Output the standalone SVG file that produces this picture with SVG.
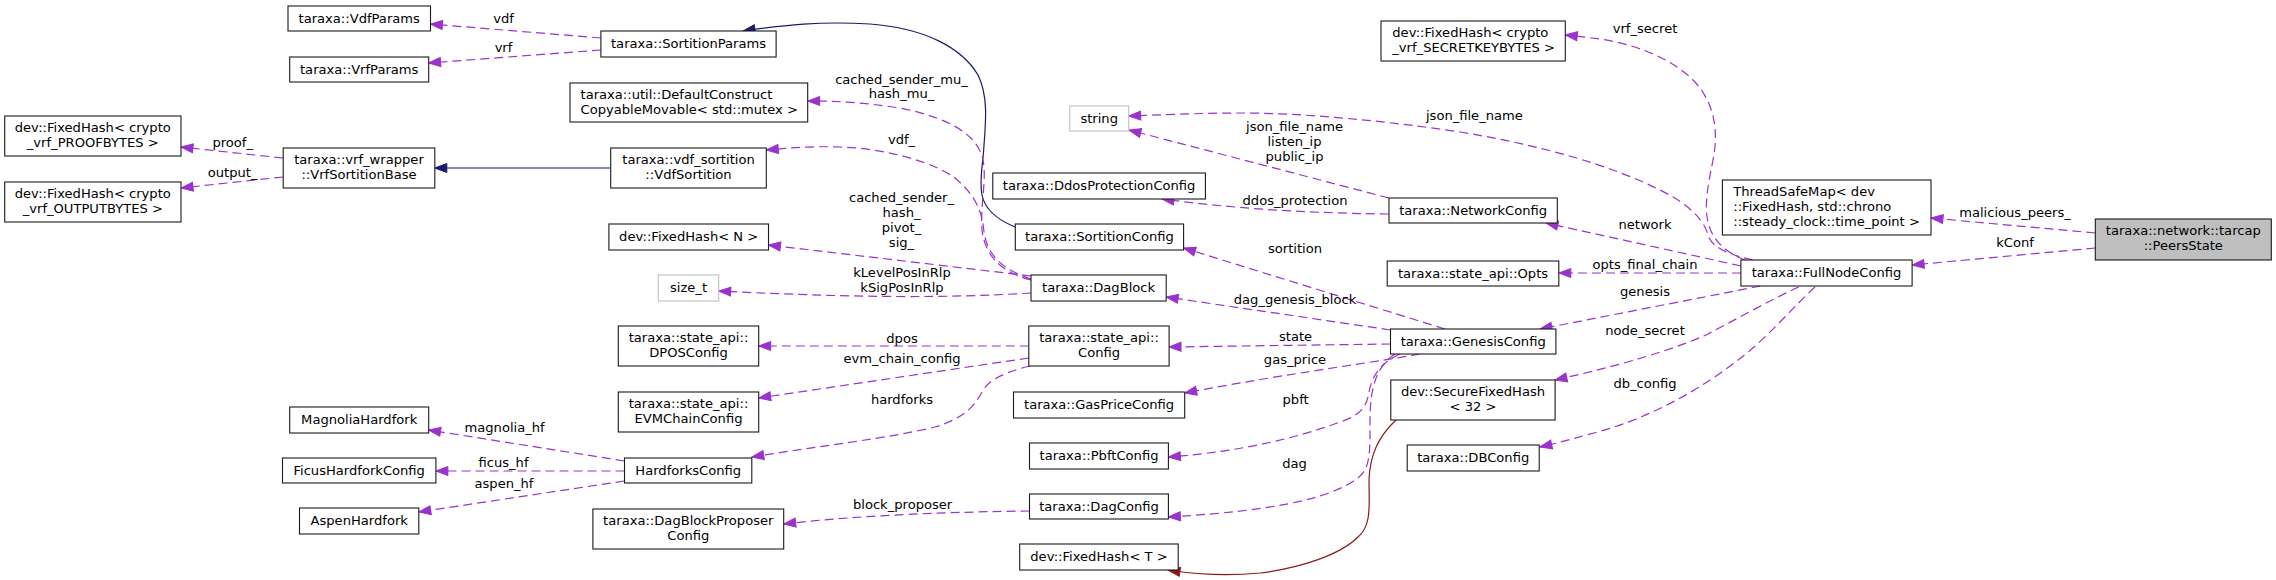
<svg xmlns="http://www.w3.org/2000/svg" width="2276" height="580" viewBox="0 0 2276 580">
<style>
text{font-family:"DejaVu Sans","Liberation Sans",sans-serif;font-size:13.1px;fill:#000}
.c{text-anchor:middle}
.n rect{fill:#fff;stroke:#1a1a1a;stroke-width:1.1}
.n.gr rect{stroke:#bfbfbf}
.n.hl rect{fill:#bfbfbf}
.d{fill:none;stroke:#9a32cd;stroke-width:1.2;stroke-dasharray:9,5}
.b{fill:none;stroke:#191970;stroke-width:1.2}
.r{fill:none;stroke:#8b1a1a;stroke-width:1.2}
</style>
<defs>
<marker id="ap" markerUnits="userSpaceOnUse" markerWidth="13" markerHeight="10" refX="12" refY="4.5" orient="auto" overflow="visible"><path d="M12,4.5 L0,0 L0,9 Z" fill="#9a32cd" stroke="#9a32cd" stroke-width="1" stroke-dasharray="none"/></marker>
<marker id="ab" markerUnits="userSpaceOnUse" markerWidth="13" markerHeight="10" refX="12" refY="4.5" orient="auto" overflow="visible"><path d="M12,4.5 L0,0 L0,9 Z" fill="#191970" stroke="#191970" stroke-width="1"/></marker>
<marker id="ar" markerUnits="userSpaceOnUse" markerWidth="13" markerHeight="10" refX="12" refY="4.5" orient="auto" overflow="visible"><path d="M12,4.5 L0,0 L0,9 Z" fill="#8b1a1a" stroke="#8b1a1a" stroke-width="1"/></marker>
</defs>
<rect width="2276" height="580" fill="#fff"/>
<g id="edges">
<path class="d" marker-end="url(#ap)" d="M600.9,38 L430.4,24"/>
<path class="d" marker-end="url(#ap)" d="M600.9,50 L428.6,63"/>
<path class="d" marker-end="url(#ap)" d="M283.2,158 L181,147"/>
<path class="d" marker-end="url(#ap)" d="M283.2,177 L181,188"/>
<path class="b" marker-end="url(#ab)" d="M610.7,168 L434.8,168"/>
<path class="b" marker-end="url(#ab)" d="M1015,227 C998,220 985,210 982,195 C979,180 983,165 984,145 C986,120 988,95 978,75 C962,48 925,28 870,24 C820,21 785,25 743,31"/>
<path class="d" marker-end="url(#ap)" d="M1031,280 C1000,272 985,255 982,230 C980,205 987,180 983,160 C978,135 950,118 900,108 C860,102 835,101 807.7,101"/>
<path class="d" marker-end="url(#ap)" d="M1031,279 C1003,270 987,255 984,232 C982,210 975,195 955,178 C930,160 880,148 840,147 C810,146 790,148 766.3,150"/>
<path class="d" marker-end="url(#ap)" d="M1031,276 L768.5,245"/>
<path class="d" marker-end="url(#ap)" d="M1031,293 C950,298 860,298 718.7,291"/>
<path class="d" marker-end="url(#ap)" d="M1028.8,346 L758.7,346"/>
<path class="d" marker-end="url(#ap)" d="M1028.8,358 L758.7,398"/>
<path class="d" marker-end="url(#ap)" d="M1030,366 C1005,372 988,380 982,392 C975,405 965,418 935,427 C890,438 820,446 751.8,457"/>
<path class="d" marker-end="url(#ap)" d="M624.5,461 L428.6,430"/>
<path class="d" marker-end="url(#ap)" d="M624.5,471 L435.9,471"/>
<path class="d" marker-end="url(#ap)" d="M624.5,481 L418.8,512"/>
<path class="d" marker-end="url(#ap)" d="M1029.5,511 C950,512 860,515 783.7,524"/>
<path class="r" marker-end="url(#ar)" d="M1396,420 C1378,437 1370,455 1369,480 C1369,505 1372,525 1358,537 C1340,555 1300,568 1260,573 C1230,576 1200,575 1168,570"/>
<path class="d" marker-end="url(#ap)" d="M1445,329 L1183.6,248"/>
<path class="d" marker-end="url(#ap)" d="M1390.5,330 L1166.2,297"/>
<path class="d" marker-end="url(#ap)" d="M1390.5,344 L1169,347"/>
<path class="d" marker-end="url(#ap)" d="M1420,354 C1390,360 1290,373 1184.7,393"/>
<path class="d" marker-end="url(#ap)" d="M1400,354 C1382,362 1372,375 1369,392 C1367,405 1362,415 1340,422 C1300,437 1240,452 1168.4,457"/>
<path class="d" marker-end="url(#ap)" d="M1395,354 C1378,365 1370,385 1370,420 C1370,450 1371,468 1358,478 C1335,495 1290,510 1168.4,517"/>
<path class="d" marker-end="url(#ap)" d="M1389,214 C1300,213 1230,208 1162,199"/>
<path class="d" marker-end="url(#ap)" d="M1389,198 L1129,130"/>
<path class="d" marker-end="url(#ap)" d="M1753,260 C1730,255 1712,248 1708,235 C1704,220 1690,205 1660,190 C1610,165 1540,145 1460,132 C1380,120 1300,113 1240,113 C1200,113 1160,115 1128.7,116"/>
<path class="d" marker-end="url(#ap)" d="M1745,260 C1725,252 1712,240 1708,222 C1704,205 1708,185 1713,160 C1718,135 1716,110 1700,88 C1680,62 1640,45 1600,39 C1585,37 1575,36 1565.3,35"/>
<path class="d" marker-end="url(#ap)" d="M1741,266 L1546,223"/>
<path class="d" marker-end="url(#ap)" d="M1741,273 L1558.8,273"/>
<path class="d" marker-end="url(#ap)" d="M1760.5,286 L1540,329"/>
<path class="d" marker-end="url(#ap)" d="M1798.7,287 C1770,300 1735,320 1706,335 C1660,355 1600,370 1555,380"/>
<path class="d" marker-end="url(#ap)" d="M1815,287 C1795,305 1770,335 1742,357 C1700,390 1650,418 1594,433 C1575,438 1558,443 1539.9,447"/>
<path class="d" marker-end="url(#ap)" d="M2095.3,233 L1931,218"/>
<path class="d" marker-end="url(#ap)" d="M2095.3,248 L1912.1,265"/>
</g>
<g id="edge-labels">
<text x="503.5" y="23" class="c">vdf</text>
<text x="503.5" y="52" class="c">vrf</text>
<text x="232.7" y="147" class="c">proof_</text>
<text x="232.7" y="177" class="c">output_</text>
<text x="901.5" y="84" class="c">cached_sender_mu_</text>
<text x="901.5" y="98" class="c">hash_mu_</text>
<text x="901.5" y="144" class="c">vdf_</text>
<text x="901.5" y="202" class="c">cached_sender_</text>
<text x="901.5" y="217" class="c">hash_</text>
<text x="901.5" y="232" class="c">pivot_</text>
<text x="901.5" y="247" class="c">sig_</text>
<text x="902" y="277" class="c">kLevelPosInRlp</text>
<text x="902" y="292" class="c">kSigPosInRlp</text>
<text x="902" y="343" class="c">dpos</text>
<text x="902" y="363" class="c">evm_chain_config</text>
<text x="902" y="404" class="c">hardforks</text>
<text x="504.6" y="432" class="c">magnolia_hf</text>
<text x="503.5" y="467" class="c">ficus_hf</text>
<text x="504" y="488" class="c">aspen_hf</text>
<text x="902.6" y="509" class="c">block_proposer</text>
<text x="1295" y="253" class="c">sortition</text>
<text x="1295" y="304" class="c">dag_genesis_block</text>
<text x="1295.6" y="341" class="c">state</text>
<text x="1295" y="364" class="c">gas_price</text>
<text x="1295.6" y="404" class="c">pbft</text>
<text x="1294.5" y="468" class="c">dag</text>
<text x="1295" y="205" class="c">ddos_protection</text>
<text x="1294.5" y="131" class="c">json_file_name</text>
<text x="1294.5" y="146" class="c">listen_ip</text>
<text x="1294.5" y="161" class="c">public_ip</text>
<text x="1474.4" y="120" class="c">json_file_name</text>
<text x="1645" y="33" class="c">vrf_secret</text>
<text x="1645" y="229" class="c">network</text>
<text x="1645" y="269" class="c">opts_final_chain</text>
<text x="1645" y="296" class="c">genesis</text>
<text x="1645" y="335" class="c">node_secret</text>
<text x="1645" y="388" class="c">db_config</text>
<text x="2015" y="217" class="c">malicious_peers_</text>
<text x="2015" y="247" class="c">kConf</text>
</g>
<g id="VdfParams" class="n"><rect x="288" y="6" width="142.5" height="25"/><text x="359.2" y="22.5" class="c">taraxa::VdfParams</text></g>
<g id="VrfParams" class="n"><rect x="289.7" y="57" width="139" height="25"/><text x="359.2" y="73.5" class="c">taraxa::VrfParams</text></g>
<g id="ProofBytes" class="n"><rect x="4.7" y="116" width="176.3" height="40"/><text x="92.8" y="131.5" class="c">dev::FixedHash&lt; crypto</text><text x="92.8" y="146.5" class="c">_vrf_PROOFBYTES &gt;</text></g>
<g id="OutputBytes" class="n"><rect x="4.7" y="182" width="176.3" height="40"/><text x="92.8" y="197.5" class="c">dev::FixedHash&lt; crypto</text><text x="92.8" y="212.5" class="c">_vrf_OUTPUTBYTES &gt;</text></g>
<g id="VrfSortitionBase" class="n"><rect x="283.2" y="148" width="151.6" height="40"/><text x="359" y="163.5" class="c">taraxa::vrf_wrapper</text><text x="359" y="178.5" class="c">::VrfSortitionBase</text></g>
<g id="MagnoliaHardfork" class="n"><rect x="289.7" y="407" width="139" height="26"/><text x="359.2" y="424" class="c">MagnoliaHardfork</text></g>
<g id="FicusHardforkConfig" class="n"><rect x="282.5" y="458" width="153.4" height="25"/><text x="359.2" y="474.5" class="c">FicusHardforkConfig</text></g>
<g id="AspenHardfork" class="n"><rect x="299.5" y="508" width="119.3" height="26"/><text x="359.2" y="525" class="c">AspenHardfork</text></g>
<g id="SortitionParams" class="n"><rect x="600.9" y="31" width="175.2" height="26"/><text x="688.5" y="48" class="c">taraxa::SortitionParams</text></g>
<g id="DefaultConstruct" class="n"><rect x="570" y="83" width="237.7" height="39"/><text x="580.5" y="98.5">taraxa::util::DefaultConstruct</text><text x="580.5" y="113.5">CopyableMovable&lt; std::mutex &gt;</text></g>
<g id="VdfSortition" class="n"><rect x="610.7" y="148" width="155.6" height="40"/><text x="688.5" y="163.5" class="c">taraxa::vdf_sortition</text><text x="688.5" y="178.5" class="c">::VdfSortition</text></g>
<g id="FixedHashN" class="n"><rect x="608.9" y="224" width="159.6" height="26"/><text x="688.7" y="241" class="c">dev::FixedHash&lt; N &gt;</text></g>
<g id="size_t" class="n gr"><rect x="658.3" y="275" width="60.4" height="26"/><text x="688.5" y="292" class="c">size_t</text></g>
<g id="DPOSConfig" class="n"><rect x="618.3" y="326" width="140.4" height="40"/><text x="688.5" y="341.5" class="c">taraxa::state_api::</text><text x="688.5" y="356.5" class="c">DPOSConfig</text></g>
<g id="EVMChainConfig" class="n"><rect x="618.3" y="392" width="140.4" height="40"/><text x="688.5" y="407.5" class="c">taraxa::state_api::</text><text x="688.5" y="422.5" class="c">EVMChainConfig</text></g>
<g id="HardforksConfig" class="n"><rect x="624.5" y="458" width="127.3" height="25"/><text x="688.2" y="474.5" class="c">HardforksConfig</text></g>
<g id="DagBlockProposerConfig" class="n"><rect x="592.9" y="509" width="190.8" height="40"/><text x="688.3" y="524.5" class="c">taraxa::DagBlockProposer</text><text x="688.3" y="539.5" class="c">Config</text></g>
<g id="string" class="n gr"><rect x="1069.8" y="106" width="58.9" height="25"/><text x="1099.2" y="122.5" class="c">string</text></g>
<g id="DdosProtectionConfig" class="n"><rect x="992.8" y="173" width="212.6" height="26"/><text x="1099.1" y="190" class="c">taraxa::DdosProtectionConfig</text></g>
<g id="SortitionConfig" class="n"><rect x="1015.3" y="224" width="168.3" height="26"/><text x="1099.4" y="241" class="c">taraxa::SortitionConfig</text></g>
<g id="DagBlock" class="n"><rect x="1031" y="275" width="135.2" height="26"/><text x="1098.6" y="292" class="c">taraxa::DagBlock</text></g>
<g id="StateConfig" class="n"><rect x="1028.8" y="326" width="140.3" height="40"/><text x="1099" y="341.5" class="c">taraxa::state_api::</text><text x="1099" y="356.5" class="c">Config</text></g>
<g id="GasPriceConfig" class="n"><rect x="1013.5" y="392" width="171.2" height="26"/><text x="1099.1" y="409" class="c">taraxa::GasPriceConfig</text></g>
<g id="PbftConfig" class="n"><rect x="1029.5" y="443" width="138.9" height="26"/><text x="1099" y="460" class="c">taraxa::PbftConfig</text></g>
<g id="DagConfig" class="n"><rect x="1029.5" y="494" width="138.9" height="25"/><text x="1099" y="510.5" class="c">taraxa::DagConfig</text></g>
<g id="FixedHashT" class="n"><rect x="1019.7" y="544" width="158.5" height="26"/><text x="1099" y="561" class="c">dev::FixedHash&lt; T &gt;</text></g>
<g id="SecretKeyBytes" class="n"><rect x="1381" y="21" width="184.3" height="40"/><text x="1392.3" y="36.5">dev::FixedHash&lt; crypto</text><text x="1392.3" y="51.5">_vrf_SECRETKEYBYTES &gt;</text></g>
<g id="NetworkConfig" class="n"><rect x="1389" y="198" width="168.3" height="25"/><text x="1473.1" y="214.5" class="c">taraxa::NetworkConfig</text></g>
<g id="Opts" class="n"><rect x="1387.2" y="261" width="171.6" height="25"/><text x="1473" y="277.5" class="c">taraxa::state_api::Opts</text></g>
<g id="GenesisConfig" class="n"><rect x="1390.5" y="329" width="165.4" height="25"/><text x="1473.2" y="345.5" class="c">taraxa::GenesisConfig</text></g>
<g id="SecureFixedHash" class="n"><rect x="1390.8" y="380" width="164.3" height="40"/><text x="1473" y="395.5" class="c">dev::SecureFixedHash</text><text x="1473" y="410.5" class="c">&lt; 32 &gt;</text></g>
<g id="DBConfig" class="n"><rect x="1407.2" y="445" width="132" height="26"/><text x="1473.2" y="462" class="c">taraxa::DBConfig</text></g>
<g id="ThreadSafeMap" class="n"><rect x="1722.4" y="180" width="208.6" height="55"/><text x="1733.3" y="195.5">ThreadSafeMap&lt; dev</text><text x="1733.3" y="210.5">::FixedHash, std::chrono</text><text x="1733.3" y="225.5">::steady_clock::time_point &gt;</text></g>
<g id="FullNodeConfig" class="n"><rect x="1740.9" y="260" width="171.2" height="26"/><text x="1826.5" y="277" class="c">taraxa::FullNodeConfig</text></g>
<g id="PeersState" class="n hl"><rect x="2095.3" y="219" width="176" height="41"/><text x="2183.3" y="235" class="c">taraxa::network::tarcap</text><text x="2183.3" y="250" class="c">::PeersState</text></g>
</svg>
